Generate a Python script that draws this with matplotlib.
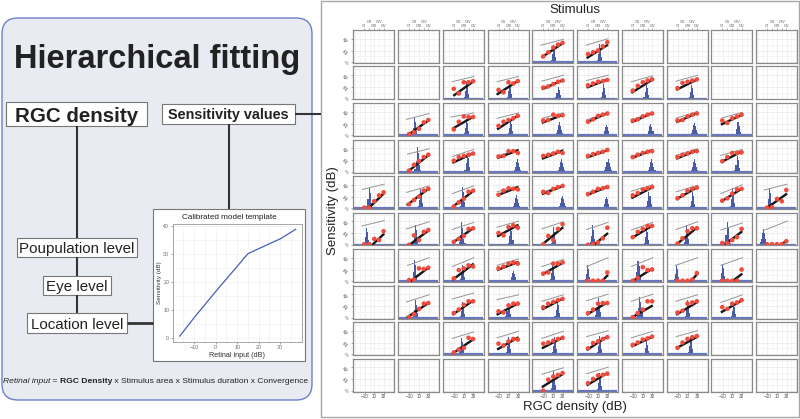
import matplotlib
matplotlib.use("Agg")
import matplotlib.pyplot as plt
from matplotlib.patches import FancyBboxPatch, Rectangle
import numpy as np

plt.rcParams['font.family'] = ['Liberation Sans', 'DejaVu Sans']
plt.rcParams['axes.unicode_minus'] = True

# ---------------- data ----------------
# calibrated model template (inset)
template_x = [-16.7, -10, 0, 10, 15, 20, 30, 37.2]
template_y = [0.6, 7.2, 16.5, 25.5, 30, 31.8, 35.3, 38.7]
template_xticks = [-10, 0, 10, 20, 30]
template_yticks = [0, 10, 20, 30, 40]

# facet grid
stim_labels = ["GI", "GII", "GIII", "GIV", "GV"]
stim_x = [-11, -0.5, 10, 20, 29.5]
density_ticks = [-10, 10, 30]
sens_ticks = [0, 20, 40]

panel_rc = [
    (1, 5), (1, 6),
    (2, 3), (2, 4), (2, 5), (2, 6), (2, 7), (2, 8),
    (3, 2), (3, 3), (3, 4), (3, 5), (3, 6), (3, 7), (3, 8), (3, 9),
    (4, 2), (4, 3), (4, 4), (4, 5), (4, 6), (4, 7), (4, 8), (4, 9),
    (5, 1), (5, 2), (5, 3), (5, 4), (5, 5), (5, 6), (5, 7), (5, 8), (5, 9), (5, 10),
    (6, 1), (6, 2), (6, 3), (6, 4), (6, 5), (6, 6), (6, 7), (6, 8), (6, 9), (6, 10),
    (7, 2), (7, 3), (7, 4), (7, 5), (7, 6), (7, 7), (7, 8), (7, 9),
    (8, 2), (8, 3), (8, 4), (8, 5), (8, 6), (8, 7), (8, 8), (8, 9),
    (9, 3), (9, 4), (9, 5), (9, 6), (9, 7), (9, 8),
    (10, 5), (10, 6),
]

# measured sensitivity (red points) at the five stimulus positions
red_y = [
    [10, 17, 25, 30, 33], [14, 17, 20, 27, 34],
    [17, 9, 28, 28, 30], [15, 11, 28, 26, 30], [19, 21, 25, 29, 31],
    [23, 26, 29, 30, 32], [14, 22, 28, 31, 33], [18, 27, 29, 31, 33],
    [2, 5, 11, 22, 26], [10, 23, 32, 31, 31], [16, 23, 26, 29, 33], [25, 26, 35, 33, 34],
    [23, 27, 33, 35, 37], [25, 27, 32, 35, 37], [25, 26, 32, 35, 37], [25, 21, 29, 32, 35],
    [2, 12, 18, 25, 29], [19, 25, 27, 29, 31], [26, 27, 35, 35, 32], [27, 29, 31, 34, 32],
    [27, 30, 32, 34, 37], [25, 29, 32, 34, 35], [25, 29, 31, 34, 35], [18, 25, 32, 32, 33],
    [1, 1, 12, 22, 27], [7, 14, 20, 30, 33], [3, 10, 16, 28, 30], [23, 30, 34, 33, 32],
    [28, 26, 33, 36, 38], [24, 28, 33, 34, 36], [22, 26, 32, 34, 36], [17, 22, 30, 33, 35],
    [13, 17, 25, 32, 33], [1, 2, 16, 12, 31],
    [1, 1, 10, 8, 23], [0, 16, 8, 22, 25], [5, 10, 15, 27, 28], [20, 16, 30, 33, 29],
    [1, 15, 8, 27, 35], [0, 1, 4, 11, 29], [13, 22, 27, 32, 32], [2, 11, 23, 28, 28],
    [3, 3, 8, 13, 27], [1, 1, 1, 1, 6],
    [2, 3, 22, 21, 23], [5, 19, 22, 27, 25], [22, 25, 30, 32, 30], [13, 15, 30, 30, 32],
    [1, 1, 1, 1, 15], [1, 6, 24, 19, 20], [1, 1, 1, 3, 14], [1, 1, 1, 1, 20],
    [1, 6, 15, 24, 25], [8, 14, 22, 28, 28], [11, 9, 21, 24, 24], [18, 24, 27, 30, 32],
    [8, 14, 24, 25, 25], [1, 8, 14, 28, 28], [9, 12, 24, 26, 28], [18, 15, 24, 26, 30],
    [3, 8, 11, 28, 26], [18, 15, 22, 26, 25], [18, 20, 23, 26, 28], [10, 19, 22, 26, 29],
    [16, 20, 25, 27, 30], [11, 20, 26, 29, 31],
    [0, 19, 24, 27, 30], [13, 20, 26, 27, 29],
]

# fitted curve (black): x0, y0, x1, y1
black_seg = [
    (-15, 8, 31, 33), (-14, 7, 31, 30),
    (-12, 5, 31, 30), (-15, 7, 31, 31), (-14, 16, 31, 32),
    (-14, 19, 31, 33), (-14, 10, 31, 33), (-14, 15, 31, 33),
    (-14, 0, 31, 26), (-14, 11, 31, 32), (-14, 10, 31, 34), (-14, 21, 31, 35),
    (-14, 22, 31, 38), (-14, 22, 31, 38), (-14, 22, 31, 38), (-14, 18, 31, 35),
    (-14, 0, 31, 29), (-14, 15, 31, 32), (-14, 23, 31, 37), (-14, 22, 31, 36),
    (-14, 24, 31, 37), (-14, 23, 31, 37), (-14, 22, 31, 37), (-14, 16, 31, 35),
    (-2, 0, 31, 26), (-16, 5, 31, 34), (-14, 2, 31, 30), (-14, 22, 31, 36),
    (-14, 24, 31, 38), (-14, 22, 31, 37), (-14, 17, 31, 36), (-14, 15, 31, 36),
    (-14, 11, 31, 34), (-12, 0, 31, 25),
    (6, 0, 31, 19), (-10, 0, 31, 25), (-14, 3, 31, 29), (-14, 14, 31, 34),
    (-14, 0, 31, 30), (2, 0, 31, 20), (-14, 11, 31, 33), (-14, 0, 31, 30),
    (-6, 0, 31, 23), (17, 0, 31, 7),
    (-8, 0, 31, 24), (-14, 2, 31, 30), (-14, 19, 31, 33), (-14, 11, 31, 32),
    (18, 0, 31, 11), (-12, 0, 31, 22), (17, 0, 31, 13), (10, 0, 31, 13),
    (-16, 0, 31, 26), (-14, 5, 31, 30), (-15, 5, 31, 25), (-14, 14, 31, 33),
    (-14, 5, 31, 27), (-14, 0, 31, 21), (-14, 5, 31, 27), (-14, 9, 31, 30),
    (-14, 1, 31, 26), (-14, 8, 31, 29), (-14, 10, 31, 29), (-14, 7, 31, 31),
    (-14, 13, 31, 30), (-14, 10, 31, 30),
    (-14, 6, 31, 29), (-14, 9, 31, 31),
]

# population-level curve (grey): x0, y0, x1, y1
grey_seg = [
    (-16, 29, 31, 39), (-15, 29, 31, 40),
    (-14, 29, 31, 38), (-14, 29, 31, 38), (-14, 30, 31, 40),
    (-14, 31, 31, 40), (-14, 29, 31, 39), (-14, 30, 31, 40),
    (-16, 27, 31, 37), (-17, 31, 31, 38), (-13, 29, 31, 38), (-13, 29, 31, 38),
    (-14, 26, 31, 39), (-14, 26, 31, 39), (-14, 29, 31, 40), (-13, 29, 31, 39),
    (-14, 30, 31, 39), (-14, 26, 31, 38), (-14, 27, 31, 38), (-14, 27, 31, 38),
    (-14, 26, 31, 38), (-14, 26, 31, 38), (-14, 28, 31, 39), (-14, 28, 31, 38),
    (-15, 32, 31, 41), (-16, 27, 31, 38), (-14, 25, 31, 38), (-14, 28, 31, 38),
    (-14, 27, 31, 39), (-14, 26, 31, 38), (-14, 29, 31, 40), (-14, 28, 31, 39),
    (-14, 25, 31, 40), (-17, 31, 31, 41),
    (-16, 32, 31, 41), (-16, 27, 31, 39), (-14, 26, 31, 38), (-14, 30, 31, 40),
    (-14, 27, 31, 39), (-14, 26, 31, 38), (-14, 25, 31, 38), (-14, 26, 31, 39),
    (-14, 25, 31, 37), (-19, 24, 31, 40),
    (-14, 27, 31, 40), (-14, 25, 31, 40), (-14, 27, 31, 38), (-14, 25, 31, 37),
    (-14, 25, 31, 40), (-14, 25, 31, 40), (-15, 27, 31, 40), (-14, 27, 31, 40),
    (-16, 27, 31, 39), (-14, 32, 31, 42), (-14, 31, 31, 39), (-14, 28, 31, 39),
    (-14, 29, 31, 40), (-14, 28, 31, 40), (-14, 28, 31, 39), (-14, 26, 31, 39),
    (-14, 27, 31, 38), (-14, 28, 31, 39), (-14, 27, 31, 39), (-14, 30, 31, 40),
    (-14, 28, 31, 39), (-14, 30, 31, 40),
    (-14, 28, 31, 39), (-14, 29, 31, 40),
]

# RGC density distribution (blue histogram): centre, peak height, wide shape flag
hist_center = [
    10, 13,
    15, 12, 20, 22, 17, 18,
    1, 15, 14, 23, 28, 27, 24, 22,
    6, 17, 29, 27, 31, 29, 25, 20,
    -1, 13, 8, 27, 30, 28, 23, 20, 11, -5,
    -6, 2, 6, 15, 10, -2, 18, 8, -1, -19,
    0, 8, 20, 9, -12, 0, -13, -11,
    2, 8, 9, 18, 10, 4, 10, 12,
    5, 10, 13, 13, 17, 17,
    10, 13,
]
hist_peak = [
    30, 31,
    31, 31, 20, 25, 24, 24,
    29, 27, 26, 22, 18, 19, 21, 22,
    42, 32, 21, 21, 21, 21, 21, 26,
    34, 33, 36, 22, 21, 20, 27, 27, 34, 34,
    29, 34, 38, 32, 30, 33, 30, 33, 38, 26,
    36, 27, 17, 33, 27, 34, 27, 30,
    30, 26, 25, 28, 34, 36, 30, 24,
    28, 30, 30, 31, 22, 30,
    33, 30,
]
hist_wide = [
    0, 0,
    0, 0, 0, 0, 0, 0,
    0, 0, 0, 1, 1, 1, 1, 0,
    0, 0, 1, 1, 1, 1, 1, 0,
    0, 0, 0, 1, 1, 1, 0, 0, 0, 0,
    0, 0, 0, 0, 0, 0, 0, 0, 0, 1,
    0, 0, 1, 0, 0, 0, 0, 0,
    0, 0, 0, 0, 0, 0, 0, 0,
    0, 0, 0, 0, 0, 0,
    0, 0,
]
hist_profile_narrow = [0.04, 0.12, 0.45, 1.0, 0.75, 0.28, 0.06]
hist_profile_wide = [0.05, 0.15, 0.4, 0.8, 1.0, 0.75, 0.4, 0.15, 0.05]

# ---------------- figure ----------------
W, H = 800, 419
fig = plt.figure(figsize=(W / 100, H / 100), dpi=100)


def frect(x, y, w, h):
    return [x / W, 1 - (y + h) / H, w / W, h / H]


bg = fig.add_axes([0, 0, 1, 1], zorder=-5)
bg.set_xlim(0, W)
bg.set_ylim(H, 0)
bg.axis('off')

TXT = '#222222'
LINE = '#333333'

# left rounded panel
bg.add_patch(FancyBboxPatch((2, 18), 310, 382, boxstyle="round,pad=0,rounding_size=16",
                            facecolor='#e9ebf3', edgecolor='#6d7fcc', lw=1.0))
bg.text(157, 68.3, "Hierarchical fitting", fontsize=23.5, fontweight='bold',
        ha='center', va='baseline', color=TXT)

# connectors
bg.plot([77, 77], [126, 238], color=LINE, lw=1.5, solid_capstyle='butt')
bg.plot([77, 77], [257, 276], color=LINE, lw=1.5, solid_capstyle='butt')
bg.plot([77, 77], [295, 313], color=LINE, lw=1.5, solid_capstyle='butt')
bg.plot([229, 229], [124, 209], color=LINE, lw=1.5, solid_capstyle='butt')
bg.plot([295, 321], [114, 114], color=LINE, lw=1.5, solid_capstyle='butt')
bg.plot([127, 153], [323, 323], color=LINE, lw=2.0, solid_capstyle='butt')


def box(x0, y0, x1, y1, text, yb, size, weight='normal'):
    bg.add_patch(Rectangle((x0, y0), x1 - x0, y1 - y0, facecolor='white',
                           edgecolor='#777777', lw=0.8))
    bg.text((x0 + x1) / 2, yb, text, fontsize=size, fontweight=weight,
            ha='center', va='baseline', color=TXT)


box(6, 102, 147, 126, "RGC density", 121.7, 14.8, 'bold')
box(162, 104, 295, 124, "Sensitivity values", 119.3, 10.4, 'bold')
box(17, 238, 137, 257, "Poupulation level", 253.3, 10.9)
box(43, 276, 111, 295, "Eye level", 291.3, 10.9)
box(27, 313, 127, 333, "Location level", 329.0, 10.9)

# inset box
bg.add_patch(Rectangle((153, 209), 152, 152, facecolor='white', edgecolor='#777777', lw=0.8))
bg.text(229, 219, "Calibrated model template", fontsize=5.9, ha='center', va='baseline', color=TXT)

iax = fig.add_axes(frect(172.7, 224, 129, 117.7))
iax.set_xlim(-20, 40)
iax.set_ylim(-1.4, 40.6)
for gx in np.arange(-20, 41, 5):
    iax.axvline(gx, color='#ececec', lw=0.4, zorder=0)
for gy in np.arange(0, 41, 5):
    iax.axhline(gy, color='#ececec', lw=0.4, zorder=0)
iax.plot(template_x, template_y, color='#4b5cb8', lw=0.9)
iax.set_xticks(template_xticks)
iax.set_yticks(template_yticks)
iax.tick_params(length=1.5, width=0.4, labelsize=3.8, colors='#666666', pad=1)
for sp in iax.spines.values():
    sp.set_color('#999999')
    sp.set_linewidth(0.6)
iax.set_xlabel("Retinal input (dB)", fontsize=5.2, labelpad=1.2, color='#333333')
iax.set_ylabel("Sensitivity (dB)", fontsize=4.6, labelpad=1.2, color='#333333')

# formula line
renderer = fig.canvas.get_renderer()
pieces = [
    ("Retinal input", dict(style='italic')),
    (" = ", dict()),
    ("RGC Density", dict(fontweight='bold')),
    (" x Stimulus area x Stimulus duration x Convergence", dict()),
]
fsz = 6.1
items = []
for s, kw in pieces:
    t = bg.text(0, 383, s, fontsize=fsz, ha='left', va='baseline', color=TXT, **kw)
    items.append(t)
widths = [t.get_window_extent(renderer).width for t in items]
total = sum(widths)
x = 155.5 - total / 2
for t, w in zip(items, widths):
    t.set_x(x)
    x += w

# right panel frame
bg.add_patch(Rectangle((321, 1), 478, 416, facecolor='none', edgecolor='#a8a8a8', lw=1.0))
bg.text(575, 10, "Stimulus", fontsize=9.5, ha='center', va='center', color=TXT)
bg.text(575, 407, "RGC density (dB)", fontsize=9.5, ha='center', va='center', color=TXT)
bg.text(333, 211, "Sensitivity (dB)", fontsize=9.5, ha='center', va='center',
        rotation=90, color=TXT)

# facet panels
GX0, GY0, GDX, GDY, PW, PH = 353.3, 30.0, 44.75, 36.5, 41.0, 33.0
XLIM = (-34, 52)
YLIM = (-1.2, 54.8)
grid_x = [-30, -20, -10, 0, 10, 20, 30, 40, 50]
grid_y = [0, 10, 20, 30, 40, 50]
HIST_COL = '#4a5ba6'
BASE_COL = '#6677bd'
lookup = {rc: i for i, rc in enumerate(panel_rc)}

for r in range(1, 11):
    for c in range(1, 11):
        ax = fig.add_axes(frect(GX0 + (c - 1) * GDX, GY0 + (r - 1) * GDY, PW, PH))
        ax.set_xlim(XLIM)
        ax.set_ylim(YLIM)
        for gx in grid_x:
            ax.axvline(gx, color='#e4e4e4' if gx in density_ticks else '#efefef', lw=0.4, zorder=0)
        for gy in grid_y:
            ax.axhline(gy, color='#e4e4e4' if gy in sens_ticks else '#efefef', lw=0.4, zorder=0)
        for sp in ax.spines.values():
            sp.set_color('#8a8a8a')
            sp.set_linewidth(0.9)
        ax.set_xticks(density_ticks)
        ax.set_yticks(sens_ticks)
        ax.tick_params(length=1.2, width=0.4, color='#666666', labelsize=3.3,
                       labelcolor='#555555', pad=0.8,
                       bottom=(r == 10), labelbottom=(r == 10),
                       left=(c == 1), labelleft=(c == 1))
        ax.tick_params(axis='y', labelrotation=45)
        if r == 1:
            s1 = ax.secondary_xaxis('top')
            s1.set_xticks(stim_x, labels=[stim_labels[0], '', stim_labels[2], '', stim_labels[4]])
            s1.tick_params(length=1.2, width=0.4, color='#666666', labelsize=2.8,
                           labelcolor='#555555', pad=0.5)
            s2 = ax.secondary_xaxis('top')
            s2.set_xticks([stim_x[1], stim_x[3]], labels=[stim_labels[1], stim_labels[3]])
            s2.tick_params(length=0, labelsize=2.8, labelcolor='#555555', pad=4.3)
            for s in (s1, s2):
                for sp in s.spines.values():
                    sp.set_visible(False)
        idx = lookup.get((r, c))
        if idx is None:
            continue
        prof = hist_profile_wide if hist_wide[idx] else hist_profile_narrow
        n = len(prof)
        bw = 2.2
        xs = hist_center[idx] + (np.arange(n) - (n - 1) / 2) * bw
        ax.bar(xs, np.array(prof) * hist_peak[idx], width=bw, color=HIST_COL,
               lw=0, zorder=1.5)
        ax.plot([XLIM[0] + 1.5, XLIM[1] - 1.5], [0.4, 0.4], color=BASE_COL, lw=1.6,
                zorder=1.6, solid_capstyle='butt')
        gx0, gy0, gx1, gy1 = grey_seg[idx]
        ax.plot([gx0, gx1], [gy0, gy1], color='#959595', lw=0.7, zorder=2)
        bx0, by0, bx1, by1 = black_seg[idx]
        ax.plot([bx0, bx1], [by0, by1], color='#161616', lw=1.7, zorder=3,
                solid_capstyle='butt')
        ax.scatter(stim_x, red_y[idx], s=11, color='#f04b3c', edgecolors='none', zorder=4)

fig.savefig("out.png", dpi=100)
